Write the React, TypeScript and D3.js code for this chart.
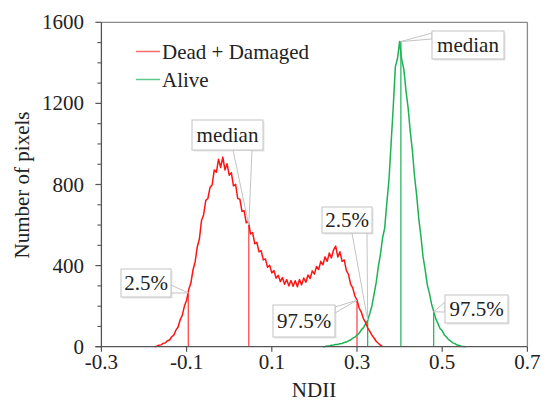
import React from "react";
import * as d3 from "d3";

// ---------- data ----------
const binWidth = 0.005;
const redStart = -0.175;
const redCounts = [
  0, 2, 7, 9, 16, 19, 29, 33, 49, 57, 82, 97, 133, 156, 201, 229, 282, 314, 378, 418,
  492, 531, 622, 651, 722, 731, 786, 798, 872, 861, 925, 884, 935, 872, 902, 846, 858, 793, 801, 731,
  728, 668, 671, 611, 618, 556, 562, 508, 514, 468, 474, 428, 433, 392, 402, 364, 376, 338, 352, 321,
  341, 308, 331, 300, 327, 298, 325, 296, 331, 305, 339, 318, 354, 336, 374, 358, 396, 381, 421, 404,
  443, 421, 462, 438, 478, 496, 442, 468, 421, 428, 376, 356, 309, 290, 250, 229, 191, 171, 139, 120,
  93, 76, 57, 43, 27, 17, 8, 0,
];
const greenStart = 0.22;
const greenCounts = [
  0, 1, 4, 4, 7, 8, 11, 11, 15, 16, 21, 23, 29, 33, 42, 47, 58, 66, 83, 93,
  113, 130, 163, 201, 258, 316, 394, 455, 536, 585, 708, 822, 1000, 1180, 1380, 1420,
  1505, 1415, 1368, 1262, 1178, 1062, 968, 842, 748, 632, 546, 444, 380, 305, 264, 211,
  175, 137, 114, 90, 79, 58, 48, 35, 28, 19, 15, 8, 6, 2, 1, 0,
];

const seriesNames = ["Dead + Damaged", "Alive"];
const xTicks = [-0.3, -0.1, 0.1, 0.3, 0.5, 0.7];
const yMajorTicks = [0, 400, 800, 1200, 1600];
const yMinorTicks = [100, 200, 300, 500, 600, 700, 900, 1000, 1100, 1300, 1400, 1500];

// percentile markers: x and the count reached
const redMarkerX = [-0.096, 0.046, 0.3];
const redMarkerY = [265, 600, 229];
const greenMarkerX = [0.325, 0.403, 0.48];
const greenMarkerY = [132, 1505, 172];
const markerLabels = ["2.5%", "median", "97.5%"];

// ---------- layout ----------
const W = 546;
const H = 403;
const RED = "#ff1414";
const GREEN = "#1db254";
const FS = 21;

// callout boxes (pixel geometry): [x0, y0, x1, y1, ax, ay, bx, by]
const redBoxes = [
  [121, 269, 171, 297, 171, 285, 171, 293],
  [192, 120, 263, 150, 233, 150, 252, 150],
  [273, 305, 335, 337, 335, 307, 335, 313],
];
const greenBoxes = [
  [322, 207, 372, 233, 352, 233, 367, 233],
  [432, 31, 504, 59, 432, 33, 432, 39],
  [445, 295, 508, 323, 445, 302, 445, 312],
];

function T(props: any) {
  const { children, ...rest } = props;
  return (
    <text {...rest} fontFamily="Liberation Serif" fontSize={FS} fill="#222" style={{ fontFamily: "Liberation Serif", fontSize: FS }}>
      {children}
    </text>
  );
}

export default function App() {
  const x = d3.scaleLinear().domain([-0.3, 0.7]).range([101.4, 527.4]);
  const y = d3.scaleLinear().domain([0, 1600]).range([346.7, 22.3]);

  const line = d3
    .line<[number, number]>()
    .x((d) => x(d[0]))
    .y((d) => y(d[1]));

  const redPts: [number, number][] = redCounts.map((c, i) => [redStart + i * binWidth, c]);
  const greenPts: [number, number][] = greenCounts.map((c, i) => [greenStart + i * binWidth, c]);

  const x0 = x(-0.3);
  const x1 = x(0.7);
  const yb = y(0);
  const yt = y(1600);

  const callouts = [
    ...redBoxes.map((b, i) => ({ b, label: markerLabels[i], tx: redMarkerX[i], ty: redMarkerY[i] })),
    ...greenBoxes.map((b, i) => ({ b, label: markerLabels[i], tx: greenMarkerX[i], ty: greenMarkerY[i] })),
  ];

  return (
    <svg width={W} height={H} style={{ position: "absolute", left: 0, top: 0 }}>
      <rect x={0} y={0} width={W} height={H} fill="#fff" />
      {/* frame */}
      <line x1={x0} y1={yt} x2={x1} y2={yt} stroke="#8a8a8a" strokeWidth={1.3} />
      <line x1={x1} y1={yt} x2={x1} y2={yb} stroke="#8a8a8a" strokeWidth={1.3} />

      {/* markers */}
      {redMarkerX.map((mx, i) => (
        <line key={"rm" + i} x1={x(mx)} x2={x(mx)} y1={yb} y2={y(redMarkerY[i])} stroke="#ff4a4a" strokeWidth={1.3} />
      ))}
      {greenMarkerX.map((mx, i) => (
        <line key={"gm" + i} x1={x(mx)} x2={x(mx)} y1={yb} y2={y(greenMarkerY[i])} stroke="#2cb862" strokeWidth={1.3} />
      ))}

      {/* curves */}
      <path d={line(greenPts) || ""} fill="none" stroke={GREEN} strokeWidth={1.5} strokeLinejoin="round" />
      <path d={line(redPts) || ""} fill="none" stroke={RED} strokeWidth={1.5} strokeLinejoin="round" />

      {/* axes */}
      <line x1={x0} y1={yt} x2={x0} y2={yb} stroke="#555" strokeWidth={1.3} />
      <line x1={x0 - 6} y1={yb} x2={x1} y2={yb} stroke="#555" strokeWidth={1.3} />
      {yMajorTicks.map((t) => (
        <g key={"ym" + t}>
          <line x1={x0 - 6} x2={x0} y1={y(t)} y2={y(t)} stroke="#555" strokeWidth={1.2} />
          <T x={84} y={y(t) + 7} textAnchor="end">
            {String(t)}
          </T>
        </g>
      ))}
      {yMinorTicks.map((t) => (
        <line key={"yn" + t} x1={x0 - 4} x2={x0} y1={y(t)} y2={y(t)} stroke="#555" strokeWidth={1.1} />
      ))}
      {xTicks.map((t) => (
        <g key={"xt" + t}>
          <line x1={x(t)} x2={x(t)} y1={yb} y2={yb + 5} stroke="#555" strokeWidth={1.2} />
          <T x={x(t)} y={369} textAnchor="middle">
            {t.toFixed(1)}
          </T>
        </g>
      ))}
      <T x={314} y={397} textAnchor="middle">
        NDII
      </T>
      <T transform="translate(29,185) rotate(-90)" textAnchor="middle">
        Number of pixels
      </T>

      {/* legend */}
      <line x1={136} x2={160} y1={51.5} y2={51.5} stroke="#ff6a6a" strokeWidth={1.5} />
      <T x={162} y={58.5}>
        {seriesNames[0]}
      </T>
      <line x1={136} x2={160} y1={79.5} y2={79.5} stroke="#5cc98a" strokeWidth={1.5} />
      <T x={162} y={86.5}>
        {seriesNames[1]}
      </T>

      {/* callouts */}
      {callouts.map((c, i) => {
        const [bx0, by0, bx1, by1, ax, ay, bx, by] = c.b;
        const px = x(c.tx);
        const py = y(c.ty);
        return (
          <g key={"co" + i}>
            <rect x={bx0 + 1.5} y={by0 + 1.5} width={bx1 - bx0} height={by1 - by0} fill="#e6e6e6" />
            <polygon points={`${ax},${ay} ${px},${py} ${bx},${by}`} fill="#fff" stroke="#c4c4c4" strokeWidth={1} />
            <rect x={bx0} y={by0} width={bx1 - bx0} height={by1 - by0} fill="#fff" stroke="#c4c4c4" strokeWidth={1} />
            <T x={(bx0 + bx1) / 2} y={(by0 + by1) / 2 + 7} textAnchor="middle">
              {c.label}
            </T>
          </g>
        );
      })}
    </svg>
  );
}
